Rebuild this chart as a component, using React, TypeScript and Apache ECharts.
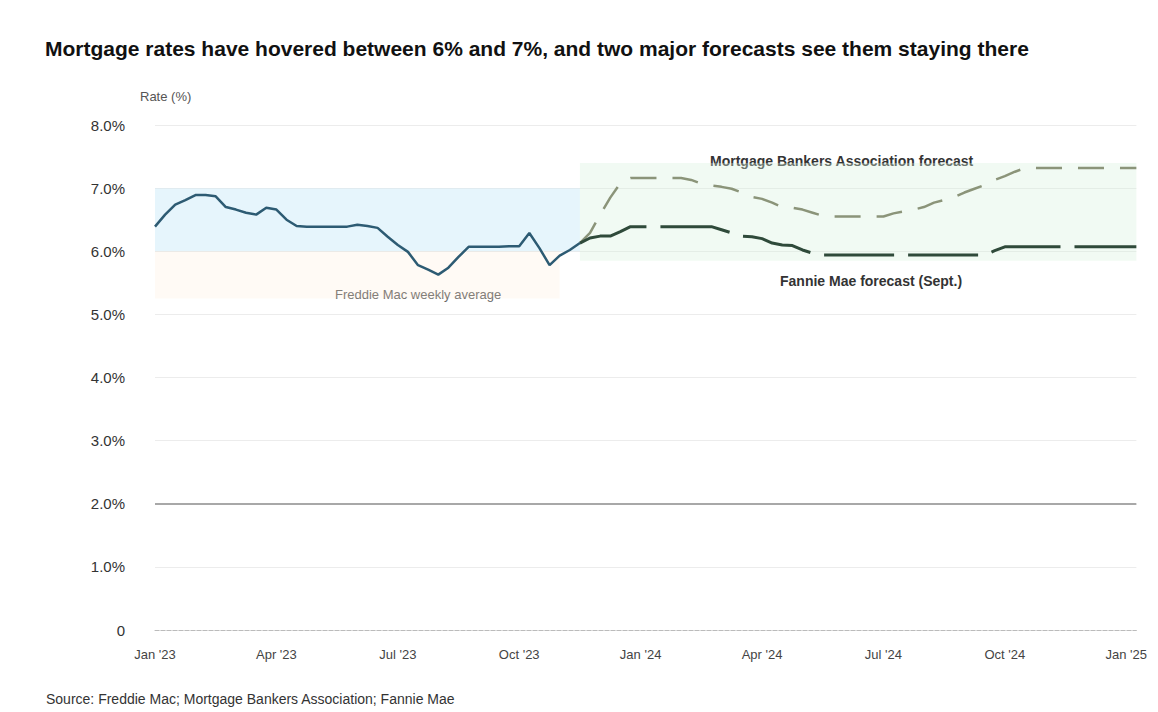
import React, { useEffect, useRef } from "react";
import * as echarts from "echarts";

const tickLabels = ["Jan '23", "Apr '23", "Jul '23", "Oct '23", "Jan '24", "Apr '24", "Jul '24", "Oct '24", "Jan '25"];

const historyValues = [
  6.39, 6.58, 6.74, 6.81, 6.89, 6.89, 6.87, 6.7, 6.66, 6.61, 6.58, 6.69, 6.66, 6.5, 6.4,
  6.39, 6.39, 6.39, 6.39, 6.39, 6.42, 6.4, 6.37, 6.23, 6.1, 5.99, 5.78, 5.71, 5.63, 5.74,
  5.91, 6.07, 6.07, 6.07, 6.07, 6.08, 6.08, 6.29, 6.05, 5.78, 5.93, 6.02, 6.13,
];

const forecastHigh = [
  6.13, 6.29, 6.58, 6.85, 7.08, 7.16, 7.16, 7.16, 7.16, 7.16, 7.16, 7.13, 7.07, 7.04, 7.02,
  6.99, 6.93, 6.86, 6.83, 6.77, 6.7, 6.69, 6.66, 6.61, 6.56, 6.55, 6.55, 6.55, 6.55, 6.55,
  6.55, 6.6, 6.63, 6.66, 6.7, 6.77, 6.81, 6.86, 6.93, 6.99, 7.05, 7.13, 7.19, 7.26, 7.32,
  7.32, 7.32, 7.32, 7.32, 7.32, 7.32, 7.32, 7.32, 7.32, 7.32, 7.32,
];

const forecastLow = [
  6.13, 6.21, 6.24, 6.24, 6.31, 6.39, 6.39, 6.39, 6.39, 6.39, 6.39, 6.39, 6.39, 6.39, 6.34,
  6.29, 6.24, 6.23, 6.2, 6.13, 6.1, 6.09, 6.02, 5.97, 5.94, 5.94, 5.94, 5.94, 5.94, 5.94,
  5.94, 5.94, 5.94, 5.94, 5.94, 5.94, 5.94, 5.94, 5.94, 5.94, 5.94, 6.01, 6.07, 6.07, 6.07,
  6.07, 6.07, 6.07, 6.07, 6.07, 6.07, 6.07, 6.07, 6.07, 6.07, 6.07,
];

const TITLE = "Mortgage rates have hovered between 6% and 7%, and two major forecasts see them staying there";
const SOURCE = "Source: Freddie Mac; Mortgage Bankers Association; Fannie Mae";
const FONT = "Liberation Sans, Arial, sans-serif";

export default function App() {
  const ref = useRef<HTMLDivElement>(null);
  useEffect(() => {
    if (!ref.current) return;
    const chart = echarts.init(ref.current, null, { renderer: "svg" });
    const histLen = historyValues.length;
    const forecastStart = histLen - 1;
    const total = forecastStart + forecastHigh.length;
    const categories: string[] = [];
    for (let i = 0; i < total; i++) categories.push("p" + i);
    const pad = (n: number) => new Array(n).fill(null);
    const hist = historyValues.concat(pad(total - histLen));
    const high = pad(forecastStart).concat(forecastHigh);
    const low = pad(forecastStart).concat(forecastLow);

    chart.setOption({
      animation: false,
      textStyle: { fontFamily: FONT },
      grid: { left: 147, right: 4, top: 117, bottom: 82 },
      graphic: [
        { type: "text", left: 37, top: 30, style: { text: TITLE, fontSize: 21, fontWeight: "bold", fill: "#111", fontFamily: FONT } },
        { type: "text", left: 132, top: 82, style: { text: "Rate (%)", fontSize: 13, fill: "#555", fontFamily: FONT } },
        { type: "text", left: 702, top: 146, style: { text: "Mortgage Bankers Association forecast", fontSize: 14, fontWeight: "bold", fill: "#333", fontFamily: FONT } },
        { type: "text", left: 772, top: 266, style: { text: "Fannie Mae forecast (Sept.)", fontSize: 14, fontWeight: "bold", fill: "#333", fontFamily: FONT } },
        { type: "text", left: 327, top: 280, style: { text: "Freddie Mac weekly average", fontSize: 13, fill: "#666", fontFamily: FONT } },
        { type: "text", left: 38, top: 684, style: { text: SOURCE, fontSize: 14, fill: "#333", fontFamily: FONT } },
      ],
      xAxis: {
        type: "category",
        data: categories,
        boundaryGap: false,
        axisLine: { lineStyle: { color: "#bbb", type: "dashed" } },
        axisTick: { show: false },
        axisLabel: {
          interval: 11,
          margin: 18,
          fontSize: 13,
          color: "#444",
          formatter: (_v: string, idx: number) => tickLabels[Math.round(idx / 12)] ?? "",
        },
        splitLine: { show: false },
      },
      yAxis: {
        type: "value",
        min: 0,
        max: 8,
        interval: 1,
        axisLine: { show: false },
        axisTick: { show: false },
        axisLabel: {
          margin: 30,
          fontSize: 15,
          color: "#333",
          formatter: (v: number) => (v === 0 ? "0" : v.toFixed(1) + "%"),
        },
        splitLine: { lineStyle: { color: "#ececec" } },
      },
      series: [
        {
          name: "history",
          type: "line",
          data: hist,
          symbol: "none",
          lineStyle: { color: "#2d5b73", width: 2.5 },
          z: 5,
          markArea: {
            silent: true,
            data: [
              [
                { xAxis: categories[0], yAxis: 7.0, itemStyle: { color: "rgba(205,236,250,0.5)" } },
                { xAxis: categories[forecastStart], yAxis: 6.0 },
              ],
              [
                { xAxis: categories[0], yAxis: 6.0, itemStyle: { color: "rgba(255,228,205,0.2)" } },
                { xAxis: categories[forecastStart - 2], yAxis: 5.25 },
              ],
            ],
          },
          markLine: {
            silent: true,
            symbol: "none",
            label: { show: false },
            lineStyle: { color: "#a8a8a8", width: 2, type: "solid" },
            data: [{ yAxis: 2 }],
          },
        },
        {
          name: "high",
          type: "line",
          data: high,
          symbol: "none",
          lineStyle: { color: "#8b9479", width: 2.5, type: [26, 16] },
          z: 4,
          markArea: {
            silent: true,
            data: [
              [
                { xAxis: categories[forecastStart], yAxis: 7.4, itemStyle: { color: "rgba(215,240,222,0.35)" } },
                { xAxis: categories[total - 1], yAxis: 5.85 },
              ],
            ],
          },
        },
        {
          name: "low",
          type: "line",
          data: low,
          symbol: "none",
          lineStyle: { color: "#2f4a3a", width: 3, type: [70, 14] },
          z: 4,
        },
      ],
    });
    return () => chart.dispose();
  }, []);
  return <div ref={ref} style={{ width: 1142, height: 704 }} />;
}
